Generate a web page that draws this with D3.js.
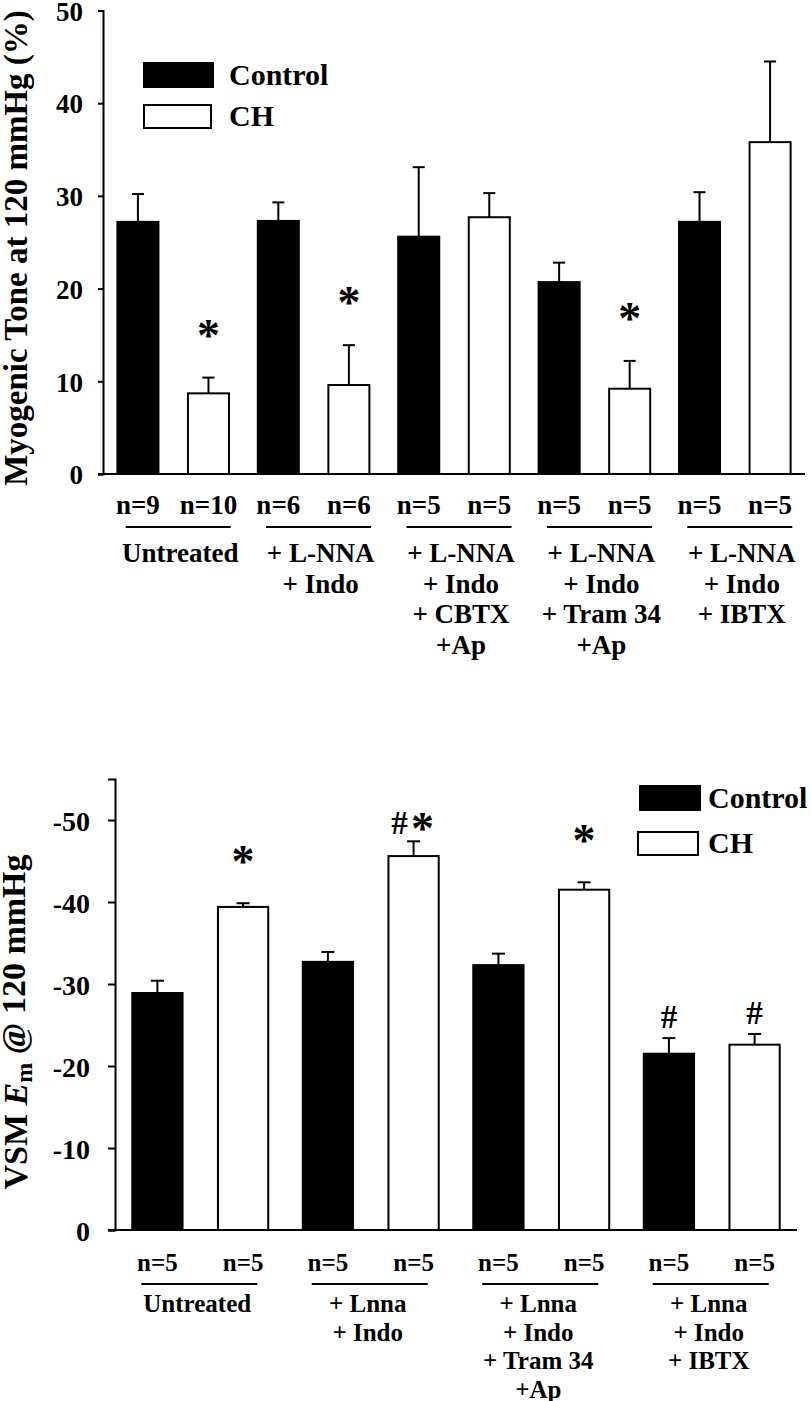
<!DOCTYPE html>
<html><head><meta charset="utf-8">
<script src="https://cdn.jsdelivr.net/npm/d3@7"></script>
<style>
html,body{margin:0;padding:0;background:#fff;}
svg text{font-family:"Liberation Serif","Times New Roman",serif;font-weight:bold;fill:#000;}
</style></head>
<body>
<svg id="c" width="811" height="1401"></svg>
<script>
// ---------- DATA ----------
const topGroups = [["Untreated"],["+ L-NNA","+ Indo"],["+ L-NNA","+ Indo","+ CBTX","+Ap"],["+ L-NNA","+ Indo","+ Tram 34","+Ap"],["+ L-NNA","+ Indo","+ IBTX"]];
const topControl = [27.2, 27.3, 25.6, 20.7, 27.2];
const topControlErr = [3.0, 2.0, 7.5, 2.1, 3.2];
const topCH = [8.7, 9.6, 27.7, 9.2, 35.8];
const topCHErr = [1.7, 4.3, 2.6, 3.0, 8.7];
const topNControl = ["n=9","n=6","n=5","n=5","n=5"];
const topNCH = ["n=10","n=6","n=5","n=5","n=5"];
const topMarksControl = ["","","","",""];
const topMarksCH = ["*","*","","*",""];
const topTicks = [0,10,20,30,40,50];
const topTickLabels = ["0","10","20","30","40","50"];

const botGroups = [["Untreated"],["+ Lnna","+ Indo"],["+ Lnna","+ Indo","+ Tram 34","+Ap"],["+ Lnna","+ Indo","+ IBTX"]];
const botControl = [-28.9, -32.7, -32.3, -21.5];
const botControlErr = [1.5, 1.2, 1.4, 1.9];
const botCH = [-39.4, -45.6, -41.5, -22.6];
const botCHErr = [0.45, 1.8, 0.9, 1.3];
const botNControl = ["n=5","n=5","n=5","n=5"];
const botNCH = ["n=5","n=5","n=5","n=5"];
const botMarksControl = ["","","","#"];
const botMarksCH = ["*","#*","*","#"];
const botTicks = [0,-10,-20,-30,-40,-50];
const botTickLabels = ["0","-10","-20","-30","-40","-50"];

const seriesNames = ["Control","CH"];

// ---------- DRAW ----------
const svg = d3.select("#c");
const FONT = '"Liberation Serif","Times New Roman",serif';

function drawMark(g, ch, cx, cy){
  // centre glyph ink around (cx, cy)
  if(ch === "*"){
    const fs = 46;
    g.append("text").attr("x",cx).attr("y",cy + 0.48*fs).attr("text-anchor","middle")
      .style("font-size",fs+"px").text("*");
  } else if(ch === "#"){
    const fs = 33;
    g.append("text").attr("x",cx).attr("y",cy + 0.34*fs).attr("text-anchor","middle")
      .style("font-size",fs+"px").text("#");
  }
}

function chart(cfg){
  const g = svg.append("g");
  const x = d3.scaleBand().domain(d3.range(cfg.groups.length)).range(cfg.xRange).paddingInner(0).paddingOuter(0);
  const xi = d3.scaleBand().domain(seriesNames).range([0, x.bandwidth()]).paddingInner(0.39).paddingOuter(0.19);
  const y = d3.scaleLinear().domain(cfg.yDomain).range(cfg.yRange);

  // y axis
  const ax = d3.axisLeft(y).tickValues(cfg.ticks).tickSizeOuter(0).tickSize(cfg.tickSize).tickPadding(cfg.tickPad)
    .tickFormat((d,i)=>cfg.tickLabels[i]);
  const ag = g.append("g").attr("transform",`translate(${cfg.xRange[0]},0)`).call(ax);
  ag.selectAll("path,line").attr("stroke","#000").attr("stroke-width",2);
  ag.selectAll("text").attr("dy","0.36em").style("font-family",FONT).style("font-weight","bold").style("font-size",cfg.tickFont+"px");

  // x axis baseline
  g.append("line").attr("x1",cfg.xRange[0]-cfg.tickSize).attr("x2",cfg.xRange[1])
    .attr("y1",y(0)).attr("y2",y(0)).attr("stroke","#000").attr("stroke-width",2);

  const series = [
    {name:"Control", vals:cfg.control, errs:cfg.controlErr, ns:cfg.nControl, marks:cfg.marksControl, fill:"#000"},
    {name:"CH", vals:cfg.ch, errs:cfg.chErr, ns:cfg.nCH, marks:cfg.marksCH, fill:"#fff"}
  ];
  const bw = xi.bandwidth();
  series.forEach(s=>{
    s.vals.forEach((v,i)=>{
      const x0 = x(i) + xi(s.name);
      const cx = x0 + bw/2;
      const top = y(v);
      const errTop = y(v + Math.sign(v)*s.errs[i]);
      // error bar
      g.append("line").attr("x1",cx).attr("x2",cx).attr("y1",top).attr("y2",errTop).attr("stroke","#000").attr("stroke-width",2);
      g.append("line").attr("x1",cx-cfg.capW/2).attr("x2",cx+cfg.capW/2).attr("y1",errTop).attr("y2",errTop).attr("stroke","#000").attr("stroke-width",2);
      // bar
      g.append("rect").attr("x",x0+1).attr("y",top).attr("width",bw-2).attr("height",y(0)-top)
        .attr("fill",s.fill).attr("stroke","#000").attr("stroke-width",2);
      // n label
      g.append("text").attr("x",cx).attr("y",cfg.nBase).attr("text-anchor","middle")
        .style("font-size",cfg.labFont+"px").text(s.ns[i]);
      // significance marks
      const m = s.marks[i];
      if(m){
        const chars = m.split("");
        if(chars.length === 1){
          drawMark(g, chars[0], cx, errTop - (chars[0]==="*" ? cfg.starGap : cfg.hashGap));
        } else {
          const cyc = errTop - cfg.hashGap + 2;
          drawMark(g, "#", cx - 14, cyc);
          drawMark(g, "*", cx + 9, cyc);
        }
      }
    });
  });

  // underline & group labels
  cfg.groups.forEach((lines,i)=>{
    const gc = x(i) + x.bandwidth()/2;
    g.append("line").attr("x1",gc+cfg.ulShift-cfg.ulW/2).attr("x2",gc+cfg.ulShift+cfg.ulW/2)
      .attr("y1",cfg.ulY).attr("y2",cfg.ulY).attr("stroke","#000").attr("stroke-width",2);
    lines.forEach((t,j)=>{
      g.append("text").attr("x",gc+cfg.labShift).attr("y",cfg.labBase + j*cfg.labStep)
        .attr("text-anchor","middle").style("font-size",cfg.labFont+"px").style("white-space","pre").text(t);
    });
  });

  // legend
  const lg = g.append("g");
  seriesNames.forEach((n,i)=>{
    const L = cfg.legend[i];
    lg.append("rect").attr("x",L.x).attr("y",L.y).attr("width",L.w).attr("height",L.h)
      .attr("fill", i===0 ? "#000" : "#fff").attr("stroke","#000").attr("stroke-width",2);
    lg.append("text").attr("x",cfg.legendTextX).attr("y",L.y+L.h-2).style("font-size","30px").text(n);
  });
  return g;
}

chart({
  groups: topGroups, control: topControl, controlErr: topControlErr, ch: topCH, chErr: topCHErr,
  nControl: topNControl, nCH: topNCH, marksControl: topMarksControl, marksCH: topMarksCH,
  ticks: topTicks, tickLabels: topTickLabels,
  xRange:[103,805], yDomain:[0,50], yRange:[474,10.5], tickSize:5, tickPad:15, tickFont:27,
  capW:12, nBase:514, labFont:27, ulY:527, ulW:105, ulShift:5, labShift:7, labBase:562, labStep:30.5,
  starGap:49, hashGap:21,
  legend:[{x:144,y:63,w:69,h:24},{x:144,y:105,w:67,h:23}], legendTextX:229
});

chart({
  groups: botGroups, control: botControl, controlErr: botControlErr, ch: botCH, chErr: botCHErr,
  nControl: botNControl, nCH: botNCH, marksControl: botMarksControl, marksCH: botMarksCH,
  ticks: botTicks, tickLabels: botTickLabels,
  xRange:[115,797], yDomain:[0,-55], yRange:[1230,779], tickSize:7, tickPad:18, tickFont:28,
  capW:13, nBase:1271, labFont:25, ulY:1284, ulW:116, ulShift:-1, labShift:-3, labBase:1312, labStep:28.5,
  starGap:48, hashGap:21,
  legend:[{x:640,y:786,w:60,h:24},{x:638,y:832,w:60,h:23}], legendTextX:708
});

// y-axis titles
svg.append("text").attr("transform","translate(27,248) rotate(-90)").attr("text-anchor","middle")
  .style("font-size","33px").text("Myogenic Tone at 120 mmHg (%)");

const yt = svg.append("text").attr("transform","translate(27,1022) rotate(-90)").attr("text-anchor","middle")
  .style("font-size","34px");
yt.append("tspan").text("VSM ");
yt.append("tspan").style("font-style","italic").text("E");
yt.append("tspan").attr("dy","0.22em").style("font-size","24px").text("m");
yt.append("tspan").attr("dy","-0.22em").text(" @ 120 mmHg");
</script>
</body></html>
